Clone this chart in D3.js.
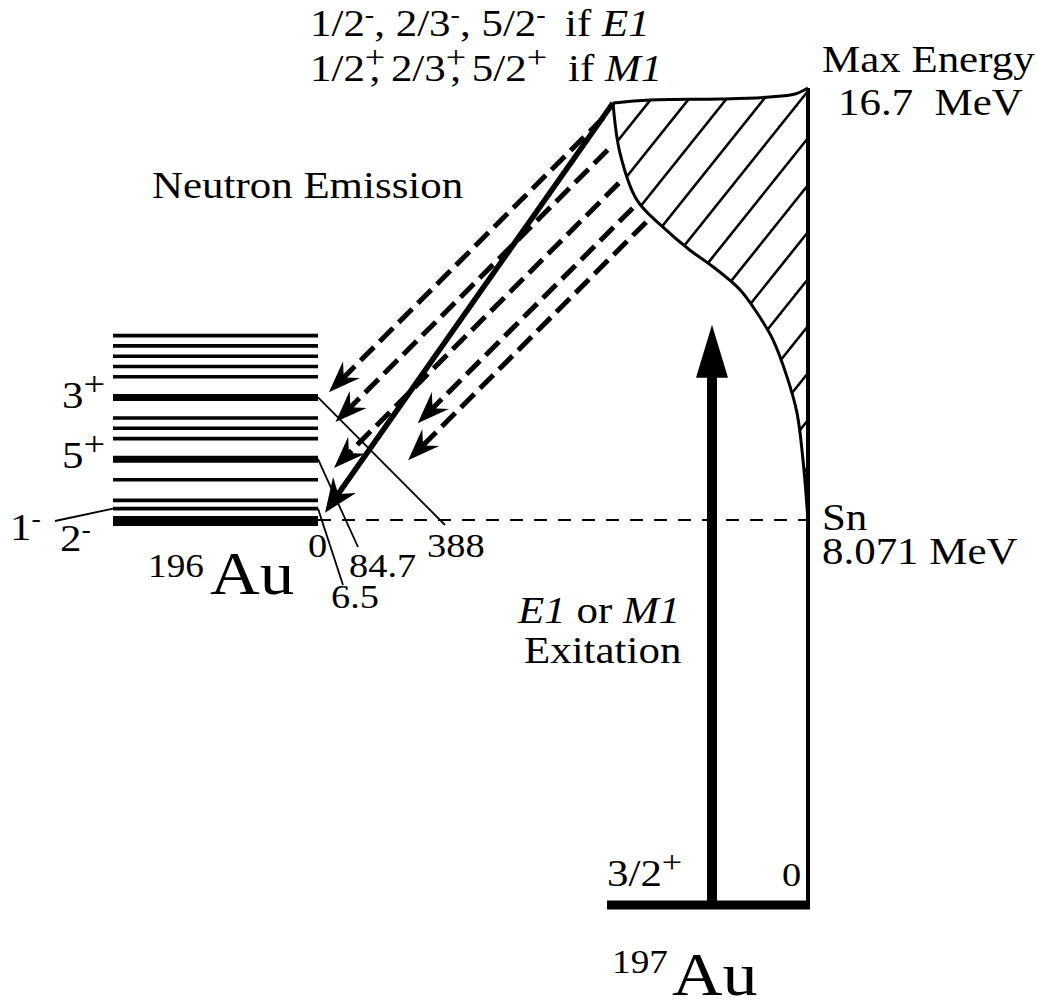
<!DOCTYPE html>
<html><head><meta charset="utf-8">
<script src="https://cdn.jsdelivr.net/npm/d3@7"></script>
<style>body{margin:0;background:#fff}svg{display:block}text{white-space:pre}</style>
</head><body><div id="chart"></div>
<script>
// ---------------- data ----------------
// 197Au reference energies (MeV): ground state, neutron separation, max excitation
const refEnergies = [0, 8.071, 16.7];
// schematic level heights of the 196Au level scheme (drawn with a schematic scale)
const levelSteps196 = [0, 1.2, 2, 4, 6, 8, 9, 10, 12, 14, 15, 16, 17, 18];
const levelSpins196 = ["2-", "1-", "", "", "5+", "", "", "", "3+", "", "", "", "", ""];
// energy labels (keV) attached to 196Au levels
const energyLabelSteps = [0, 1.2, 6, 12];
const energyLabelTexts = ["0", "6.5", "84.7", "388"];
// envelope of the excited strength region (energy MeV vs. width left of the 0-line)
const edgeEnergies = [8.071, 9.27, 10.21, 10.93, 11.67, 12.21, 12.67, 13.13, 13.46, 13.92, 14.46, 15.40, 16.40];
const edgeWidths   = [0, 5, 11, 21, 35, 51, 68, 95, 118, 145, 171, 188, 195];
const topEnergies  = [16.40, 16.46, 16.48, 16.52, 16.58, 16.7];
const topWidths    = [195, 158, 88, 38, 13, 0];
// neutron-emission transitions: start energy (MeV) -> schematic end level height
const dashedStartE = [16.10, 15.46, 14.80, 14.30, 14.02];
const dashedEndStep = [12.5, 9.6, 5.15, 9.5, 5.9];
const solidStartE = 16.40, solidEndStep = 0.8;
const excitationE = 11.97;

// ---------------- layout ----------------
const W = 1037, H = 1007;
const FONT = '"Liberation Serif","Times New Roman",serif';
const SX = 1.13;
const xRight = 808, xLevL = 113, xLevR = 318, x197L = 607, xExc = 712;

const svg = d3.select("#chart").append("svg").attr("width", W).attr("height", H);

const y = d3.scaleLinear().domain(refEnergies).range([905, 520, 88]);
const ySn = y(refEnergies[1]);
const yLev = d3.scaleLinear().domain([0, 18]).range([ySn + 1, ySn + 1 - 185.4]);
const edgeW = d3.scaleLinear().domain(edgeEnergies).range(edgeWidths).clamp(true);

function rich(x, yy, segs, size) {
  const g = svg.append("g").attr("transform", `translate(${x},${yy}) scale(${SX},1)`);
  const t = g.append("text").attr("font-family", FONT).attr("font-size", size).attr("fill", "#000");
  let shift = 0;
  segs.forEach(s => {
    const sp = t.append("tspan").text(s.t);
    const target = s.sup ? -s.sup : 0;
    if (target !== shift) { sp.attr("dy", target - shift); shift = target; }
    if (s.size) sp.attr("font-size", s.size);
    if (s.it) sp.attr("font-style", "italic");
    if (s.dx) sp.attr("dx", s.dx);
  });
  return t;
}

// ---------------- hatched strength region ----------------
const leftPts = edgeEnergies.map((e, i) => [xRight - edgeWidths[i], y(e)]);
const topPts = topEnergies.map((e, i) => [xRight - topWidths[i], y(e)]);
const curve = d3.line().curve(d3.curveCatmullRom.alpha(0.5));

const regionPts = leftPts.concat(topPts.slice(1));
svg.append("clipPath").attr("id", "reg").append("path")
  .attr("d", curve(regionPts) + "L" + xRight + "," + ySn + "Z");

const hatch = svg.append("g").attr("clip-path", "url(#reg)");
d3.range(-5, 9).forEach(k => {
  const yR = 138 + 47 * k;
  hatch.append("line").attr("x1", xRight + 20).attr("y1", yR - 1.25 * 20)
    .attr("x2", xRight - 320).attr("y2", yR + 1.25 * 320)
    .attr("stroke", "#000").attr("stroke-width", 2.6);
});
svg.append("path").attr("d", curve(leftPts)).attr("fill", "none").attr("stroke", "#000").attr("stroke-width", 3);
svg.append("path").attr("d", curve(topPts)).attr("fill", "none").attr("stroke", "#000").attr("stroke-width", 3);

// vertical 0-line of 197Au
svg.append("line").attr("x1", xRight).attr("x2", xRight).attr("y1", y(refEnergies[2])).attr("y2", y(0) + 4)
  .attr("stroke", "#000").attr("stroke-width", 4);

// Sn dashed line
svg.append("line").attr("x1", xLevR).attr("x2", xRight).attr("y1", ySn).attr("y2", ySn)
  .attr("stroke", "#000").attr("stroke-width", 2.2).attr("stroke-dasharray", "13,11");

// 197Au ground state
svg.append("line").attr("x1", x197L).attr("x2", xRight + 2).attr("y1", y(0)).attr("y2", y(0))
  .attr("stroke", "#000").attr("stroke-width", 9);

// excitation arrow
const tipY = y(excitationE);
svg.append("rect").attr("x", xExc - 5).attr("width", 10).attr("y", tipY + 50).attr("height", y(0) - tipY - 50);
svg.append("path").attr("d", `M${xExc},${tipY} L${xExc + 16},${tipY + 53} L${xExc - 16},${tipY + 53} Z`);

// ---------------- 196Au levels ----------------
levelSteps196.forEach((s, i) => {
  const sp = levelSpins196[i];
  const w = sp === "2-" ? 10 : (sp === "5+" || sp === "3+") ? 7 : 3.6;
  svg.append("line").attr("x1", xLevL).attr("x2", xLevR).attr("y1", yLev(s)).attr("y2", yLev(s))
    .attr("stroke", "#000").attr("stroke-width", w);
});

// ---------------- arrows ----------------
function head(tx, ty, ux, uy, L, Wd, N) {
  const nx = -uy, ny = ux;
  const bx = tx - ux * L, by = ty - uy * L;
  return `M${tx},${ty} L${bx + nx * Wd},${by + ny * Wd} L${tx - ux * (L - N)},${ty - uy * (L - N)} L${bx - nx * Wd},${by - ny * Wd} Z`;
}
dashedStartE.forEach((e, i) => {
  const y0 = y(e), x0 = xRight - edgeW(e) - 12;
  const y1 = yLev(dashedEndStep[i]), x1 = x0 - (y1 - y0);
  const d = Math.hypot(x1 - x0, y1 - y0), ux = (x1 - x0) / d, uy = (y1 - y0) / d;
  svg.append("line").attr("x1", x0).attr("y1", y0).attr("x2", x1 - ux * 20).attr("y2", y1 - uy * 20)
    .attr("stroke", "#000").attr("stroke-width", 5).attr("stroke-dasharray", "19,8");
  svg.append("path").attr("d", head(x1, y1, ux, uy, 32, 12, 11));
});
{
  const y0 = y(solidStartE), x0 = xRight - edgeW(solidStartE);
  const y1 = yLev(solidEndStep), x1 = xLevR + 7;
  const d = Math.hypot(x1 - x0, y1 - y0), ux = (x1 - x0) / d, uy = (y1 - y0) / d;
  svg.append("line").attr("x1", x0).attr("y1", y0).attr("x2", x1 - ux * 20).attr("y2", y1 - uy * 20)
    .attr("stroke", "#000").attr("stroke-width", 5.5);
  svg.append("path").attr("d", head(x1, y1, ux, uy, 34, 14, 11));
}

// ---------------- connectors ----------------
const thin = (x1, y1, x2, y2) => svg.append("line").attr("x1", x1).attr("y1", y1).attr("x2", x2).attr("y2", y2)
  .attr("stroke", "#000").attr("stroke-width", 1.8);
thin(55, ySn + 1, xLevL, yLev(1.2));
const labelAnchors = [[308, 557], [331, 608], [349, 577], [427, 557]];
const connEnds = [null, [343, 585], [358, 547], [445, 525]];
energyLabelTexts.forEach((t, i) => {
  if (connEnds[i]) thin(xLevR, yLev(energyLabelSteps[i]), connEnds[i][0], connEnds[i][1]);
  rich(labelAnchors[i][0], labelAnchors[i][1], [{ t }], 34);
});

// ---------------- text ----------------
rich(310, 36, [{ t: "1/2" }, { t: "-", sup: 13, size: 25 }, { t: ", 2/3" }, { t: "-", sup: 13, size: 25 }, { t: ", 5/2" }, { t: "-", sup: 13, size: 25 }], 38);
rich(565, 36, [{ t: "if " }, { t: "E1", it: true }], 38);
rich(310, 81, [{ t: "1/2" }, { t: "+", sup: 13, size: 32 }, { t: ",", dx: -14 }, { t: " 2/3" }, { t: "+", sup: 13, size: 32 }, { t: ",", dx: -14 }, { t: " 5/2" }, { t: "+", sup: 13, size: 32 }], 38);
rich(568, 81, [{ t: "if " }, { t: "M1", it: true }], 38);

rich(822, 72, [{ t: "Max Energy" }], 38);
rich(838, 115, [{ t: "16.7  MeV" }], 38);
rich(152, 198, [{ t: "Neutron Emission" }], 38);

levelSpins196.forEach((sp, i) => {
  if (!sp) return;
  const pos = { "3+": [62, 408], "5+": [62, 468], "1-": [10, 540], "2-": [60, 551] }[sp];
  const isPlus = sp[1] === "+";
  rich(pos[0], pos[1], [{ t: sp[0] }, { t: sp[1], sup: 13, size: isPlus ? 34 : 25 }], 38);
});

rich(148, 577, [{ t: "196" }], 33);
rich(210, 594, [{ t: "Au" }], 61);

rich(822, 530, [{ t: "Sn" }], 38);
rich(822, 564, [{ t: "8.071 MeV" }], 38);

rich(518, 623, [{ t: "E1", it: true }, { t: " or " }, { t: "M1", it: true }], 38);
rich(524, 663, [{ t: "Exitation" }], 38);

rich(607, 886, [{ t: "3/2" }, { t: "+", sup: 13, size: 32 }], 38);
rich(782, 886, [{ t: "0" }], 34);
rich(612, 973, [{ t: "197" }], 33);
rich(672, 995, [{ t: "Au" }], 62);
</script></body></html>
